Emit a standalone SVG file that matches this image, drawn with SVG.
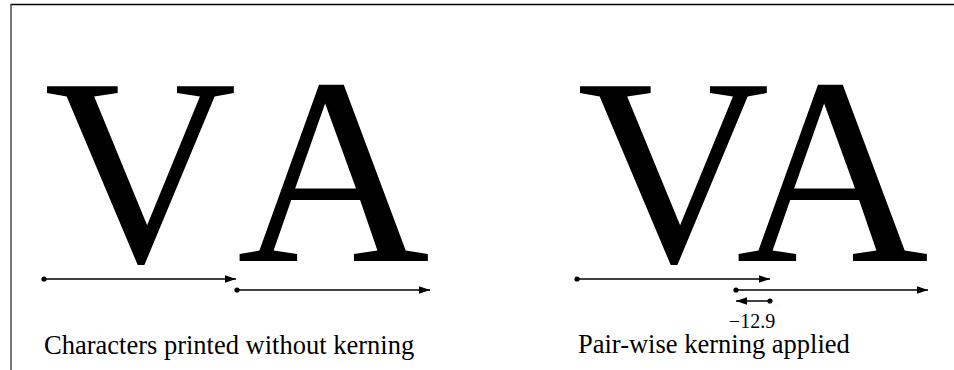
<svg xmlns="http://www.w3.org/2000/svg" width="954" height="370" viewBox="0 0 954 370">
<style>
.big{font-family:"Liberation Serif","Times New Roman",serif;font-size:267px;fill:#000}
.cap{font-family:"Liberation Serif","Times New Roman",serif;font-size:26.5px;fill:#000}
.lbl{font-family:"Liberation Serif","Times New Roman",serif;font-size:20px;fill:#000}
.ln{stroke:#000;stroke-width:1.3;fill:none;marker-start:url(#dot);marker-end:url(#arr)}
</style>
<defs>
<marker id="arr" markerUnits="userSpaceOnUse" markerWidth="12" markerHeight="10" refX="11" refY="5" orient="auto"><path d="M0,1.2 L11,5 L0,8.8 Z" fill="#000"/></marker>
<marker id="dot" markerUnits="userSpaceOnUse" markerWidth="8" markerHeight="8" refX="4" refY="4"><circle cx="4" cy="4" r="2.6" fill="#000"/></marker>
</defs>
<line x1="10.5" y1="4.5" x2="954" y2="4.5" stroke="#000" stroke-width="1.6"/>
<line x1="11" y1="4" x2="11" y2="370" stroke="#555" stroke-width="1.6"/>
<g id="unkerned">
<text class="big" x="44" y="261">V</text>
<text class="big" x="237" y="261">A</text>
<text class="cap" x="44" y="354">Characters printed without kerning</text>
</g>
<g id="kerned">
<text class="big" x="577" y="261">V</text>
<text class="big" x="736" y="261">A</text>
<text class="cap" x="578" y="353">Pair-wise kerning applied</text>
<text class="lbl" x="752" y="328" text-anchor="middle">−12.9</text>
</g>
<g id="connectors">
<line class="ln" x1="44" y1="279" x2="236" y2="279"/>
<line class="ln" x1="237" y1="290" x2="430" y2="290"/>
<line class="ln" x1="577" y1="279" x2="770" y2="279"/>
<line class="ln" x1="736" y1="290" x2="928" y2="290"/>
<line class="ln" x1="770" y1="301" x2="736" y2="301"/>
</g>
</svg>
